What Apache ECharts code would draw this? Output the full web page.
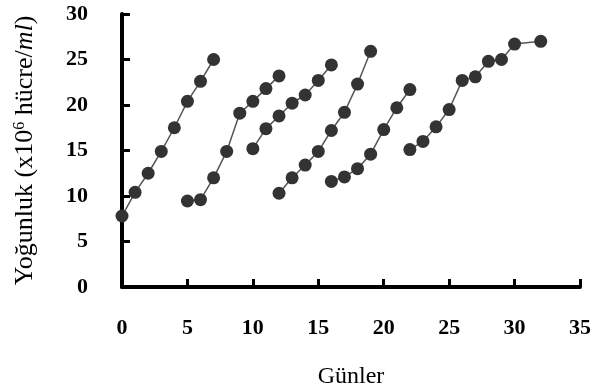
<!DOCTYPE html>
<html>
<head>
<meta charset="utf-8">
<script src="https://cdn.jsdelivr.net/npm/echarts@6/dist/echarts.min.js"></script>
<style>
  html, body { margin: 0; padding: 0; background: #fff; }
  #chart { width: 593px; height: 390px; }
</style>
</head>
<body>
<div id="chart"></div>
<script>
  // okunan degerler (gun, yogunluk)
  var days1 = [0, 1, 2, 3, 4, 5, 6, 7]
  var vals1 = [7.8, 10.4, 12.5, 14.9, 17.5, 20.4, 22.6, 25.0]
  var days2 = [5, 6, 7, 8, 9, 10, 11, 12]
  var vals2 = [9.45, 9.6, 12.0, 14.9, 19.1, 20.4, 21.8, 23.2]
  var days3 = [10, 11, 12, 13, 14, 15, 16]
  var vals3 = [15.2, 17.4, 18.8, 20.2, 21.1, 22.7, 24.4]
  var days4 = [12, 13, 14, 15, 16, 17, 18, 19]
  var vals4 = [10.3, 12.0, 13.4, 14.9, 17.2, 19.2, 22.3, 25.9]
  var days5 = [16, 17, 18, 19, 20, 21, 22]
  var vals5 = [11.6, 12.1, 13.0, 14.6, 17.3, 19.7, 21.7]
  var days6 = [22, 23, 24, 25, 26, 27, 28, 29, 30, 32]
  var vals6 = [15.1, 16.0, 17.6, 19.5, 22.7, 23.1, 24.8, 25.0, 26.7, 27.0]

  var xTicks = [0, 5, 10, 15, 20, 25, 30, 35]
  var yTicks = [0, 5, 10, 15, 20, 25, 30]

  var groups = [[days1, vals1], [days2, vals2], [days3, vals3], [days4, vals4], [days5, vals5], [days6, vals6]]

  var myChart = echarts.init(document.getElementById('chart'))

  function extend(a, b) {
    var o = {}
    for (var k in a) o[k] = a[k]
    for (var j in b) o[j] = b[j]
    return o
  }

  var axisLineStyle = { color: '#000', width: 4 }
  var labelFont = {
    fontFamily: 'Liberation Serif',
    fontWeight: 'bold',
    fontSize: 22,
    color: '#000'
  }

  var series = groups.map(function(g) {
    return {
      type: 'line',
      data: g[0].map(function(d, i) { return [d, g[1][i]] }),
      symbol: 'circle',
      symbolSize: 13,
      itemStyle: { color: '#333' },
      lineStyle: { color: '#555', width: 1.5 },
      silent: true,
      animation: false
    }
  })

  var option = {
    grid: {
      left: 122,
      right: 13,
      top: 14,
      bottom: 103,
      outerBoundsMode: 'none',
      containLabel: false
    },
    xAxis: {
      type: 'value',
      min: xTicks[0],
      max: xTicks[xTicks.length - 1],
      interval: 5,
      name: 'Günler',
      nameLocation: 'middle',
      nameGap: 78,
      nameTextStyle: {
        fontFamily: 'Liberation Serif',
        fontSize: 24,
        color: '#000'
      },
      axisLine: { show: true, lineStyle: axisLineStyle },
      axisTick: { show: true, inside: true, length: 8, lineStyle: { color: '#000', width: 3 } },
      axisLabel: extend({ margin: 30 }, labelFont),
      splitLine: { show: false }
    },
    yAxis: {
      type: 'value',
      min: yTicks[0],
      max: yTicks[yTicks.length - 1],
      interval: 5,
      name: '{n|Yoğunluk (x10}{s|6}{n| hücre/}{i|ml}{n|)}',
      nameLocation: 'middle',
      nameGap: 84,
      nameTextStyle: {
        rich: {
          n: { fontFamily: 'Liberation Serif', fontSize: 26, color: '#000' },
          s: { fontFamily: 'Liberation Serif', fontSize: 16, color: '#000', verticalAlign: 'top', padding: [0, 0, 10, 0] },
          i: { fontFamily: 'Liberation Serif', fontSize: 26, fontStyle: 'italic', color: '#000' }
        }
      },
      axisLine: { show: true, lineStyle: axisLineStyle },
      axisTick: { show: true, inside: true, length: 8, lineStyle: { color: '#000', width: 3 } },
      axisLabel: extend({ margin: 34 }, labelFont),
      splitLine: { show: false }
    },
    series: series
  }

  myChart.setOption(option)
</script>
</body>
</html>
